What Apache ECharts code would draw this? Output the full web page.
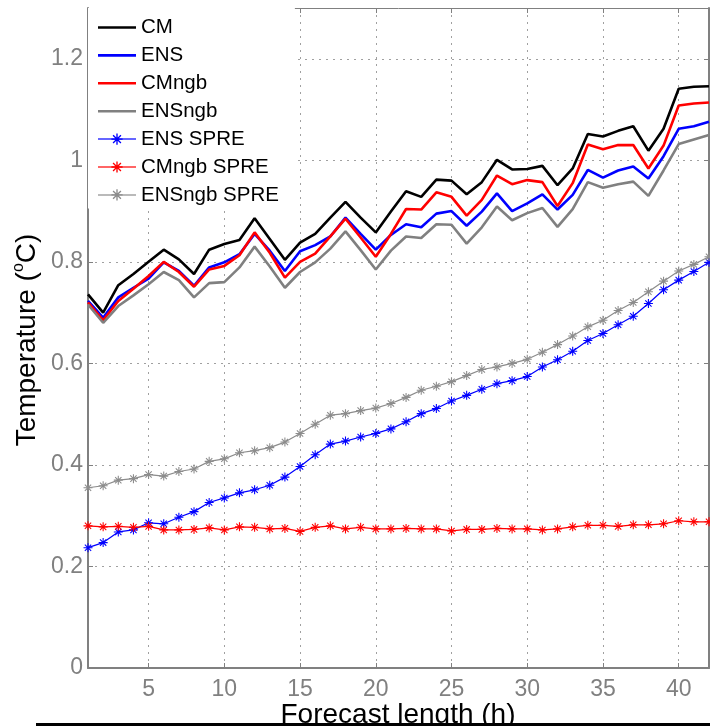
<!DOCTYPE html>
<html><head><meta charset="utf-8">
<script src="https://cdn.jsdelivr.net/npm/echarts@6/dist/echarts.min.js"></script>
<style>html,body{margin:0;padding:0;background:#fff;overflow:hidden}#c{width:710px;height:726px}</style>
</head><body><div id="c"></div>
<script>
const hours = [1,2,3,4,5,6,7,8,9,10,11,12,13,14,15,16,17,18,19,20,21,22,23,24,25,26,27,28,29,30,31,32,33,34,35,36,37,38,39,40,41,42];
const seriesNames = ['CM','ENS','CMngb','ENSngb','ENS SPRE','CMngb SPRE','ENSngb SPRE'];
const cm = [0.736,0.700,0.754,0.776,0.800,0.824,0.805,0.776,0.824,0.835,0.843,0.886,0.845,0.804,0.838,0.855,0.887,0.918,0.887,0.858,0.899,0.939,0.928,0.962,0.960,0.933,0.957,1.001,0.982,0.983,0.989,0.951,0.984,1.052,1.047,1.058,1.067,1.019,1.062,1.141,1.145,1.146];
const ens = [0.723,0.690,0.730,0.749,0.767,0.799,0.782,0.753,0.789,0.799,0.815,0.855,0.822,0.782,0.821,0.833,0.850,0.887,0.855,0.824,0.853,0.874,0.868,0.895,0.900,0.871,0.899,0.935,0.900,0.915,0.933,0.903,0.932,0.981,0.966,0.980,0.988,0.964,1.008,1.062,1.067,1.076];
const cmngb = [0.720,0.685,0.723,0.747,0.772,0.800,0.780,0.751,0.785,0.792,0.813,0.858,0.818,0.769,0.800,0.816,0.850,0.885,0.848,0.810,0.855,0.904,0.903,0.937,0.928,0.891,0.922,0.970,0.953,0.961,0.957,0.910,0.955,1.031,1.022,1.030,1.030,0.984,1.029,1.108,1.112,1.114];
const ensngb = [0.716,0.680,0.713,0.734,0.756,0.780,0.764,0.730,0.758,0.760,0.789,0.830,0.791,0.749,0.780,0.799,0.826,0.860,0.823,0.785,0.822,0.850,0.847,0.874,0.873,0.836,0.868,0.909,0.882,0.896,0.906,0.869,0.904,0.957,0.946,0.953,0.958,0.930,0.980,1.032,1.041,1.050];
const ensSpre = [0.237,0.247,0.268,0.272,0.286,0.284,0.297,0.308,0.326,0.335,0.345,0.351,0.360,0.376,0.397,0.420,0.441,0.447,0.455,0.462,0.471,0.485,0.501,0.511,0.526,0.537,0.549,0.560,0.566,0.574,0.593,0.607,0.624,0.645,0.659,0.676,0.693,0.718,0.745,0.764,0.781,0.799];
const cmngbSpre = [0.280,0.278,0.279,0.277,0.279,0.272,0.272,0.273,0.276,0.272,0.278,0.277,0.274,0.275,0.269,0.277,0.280,0.274,0.277,0.274,0.274,0.275,0.274,0.274,0.270,0.273,0.273,0.275,0.274,0.274,0.272,0.274,0.278,0.281,0.281,0.279,0.282,0.282,0.284,0.290,0.288,0.288];
const ensngbSpre = [0.355,0.359,0.370,0.373,0.381,0.378,0.387,0.392,0.407,0.412,0.424,0.428,0.434,0.445,0.462,0.480,0.498,0.501,0.507,0.512,0.521,0.533,0.547,0.555,0.564,0.576,0.588,0.593,0.600,0.608,0.622,0.637,0.654,0.672,0.685,0.704,0.720,0.741,0.762,0.782,0.795,0.810];
const xAxisTitle = 'Forecast length (h)';
const yAxisTitle = ['Temperature (', 'o', 'C)'];

const FF = 'Liberation Sans, Arial, Helvetica, sans-serif';
const GRAY = '#808080';
const STAR = 'path://M4.4 0L5.6 0L5.6 10L4.4 10Z M0 4.4L10 4.4L10 5.6L0 5.6Z M1.92 1.08L8.92 8.08L8.08 8.92L1.08 1.92Z M1.08 8.08L8.08 1.08L8.92 1.92L1.92 8.92Z';
const LINE_ICON = 'path://M0 0L38 0L38 2.6L0 2.6Z';

function pairs(arr) { return hours.map((h, i) => [h, arr[i]]); }
function mainLine(name, arr, color) {
  return { name, type: 'line', data: pairs(arr), symbol: 'none', smooth: false,
    lineStyle: { color, width: 2.6 }, itemStyle: { color } };
}
function spreLine(name, arr, color) {
  return { name, type: 'line', data: pairs(arr), symbol: STAR, symbolSize: 9, showSymbol: true, showAllSymbol: true,
    lineStyle: { color, width: 1.2 }, itemStyle: { color } };
}

const xCommon = { type: 'value', min: 1, max: 42, splitNumber: 8 };
const yCommon = { type: 'value', min: 0, max: 1.3, interval: 0.2 };
const dotted = { show: true, lineStyle: { color: '#a0a0a0', width: 1, type: [2, 5] } };

const chart = echarts.init(document.getElementById('c'), null, { renderer: 'canvas' });
chart.setOption({
  animation: false,
  backgroundColor: '#fff',
  grid: { left: 88, right: 1, top: 8, bottom: 58, containLabel: false, outerBoundsMode: 'none' },
  xAxis: [
    Object.assign({}, xCommon, {
      position: 'bottom',
      axisLine: { show: true, lineStyle: { color: GRAY, width: 2 } },
      axisTick: { show: true, inside: true, length: 5, lineStyle: { color: GRAY, width: 1 } },
      axisLabel: { color: GRAY, fontSize: 23, fontFamily: FF, margin: 10, showMinLabel: false, showMaxLabel: false },
      splitLine: dotted
    }),
    Object.assign({}, xCommon, {
      position: 'top',
      axisLine: { show: true, onZero: false, lineStyle: { color: GRAY, width: 1 } },
      axisTick: { show: true, inside: true, length: 5, lineStyle: { color: GRAY, width: 1 } },
      axisLabel: { show: false }, splitLine: { show: false }
    })
  ],
  yAxis: [
    Object.assign({}, yCommon, {
      position: 'left',
      axisLine: { show: true, lineStyle: { color: GRAY, width: 2 } },
      axisTick: { show: true, inside: true, length: 5, lineStyle: { color: GRAY, width: 1 } },
      axisLabel: { color: GRAY, fontSize: 23, fontFamily: FF, margin: 5, showMaxLabel: false },
      splitLine: dotted
    }),
    Object.assign({}, yCommon, {
      position: 'right',
      axisLine: { show: true, onZero: false, lineStyle: { color: GRAY, width: 2 } },
      axisTick: { show: true, inside: true, length: 5, lineStyle: { color: GRAY, width: 1 } },
      axisLabel: { show: false }, splitLine: { show: false }
    })
  ],
  legend: {
    left: 88, top: 8, orient: 'vertical', align: 'left',
    padding: [9, 16, 3, 9], itemWidth: 38, itemHeight: 14, itemGap: 6.9,
    backgroundColor: '#fff', borderWidth: 0,
    textStyle: { fontSize: 20.5, lineHeight: 20, color: '#000', fontFamily: FF },
    selectedMode: false,
    data: seriesNames.map((n, i) => i < 4 ? { name: n, icon: LINE_ICON } : { name: n, lineStyle: { opacity: 0.6 } })
  },
  series: [
    mainLine(seriesNames[0], cm, '#000000'),
    mainLine(seriesNames[1], ens, '#0000ff'),
    mainLine(seriesNames[2], cmngb, '#ff0000'),
    mainLine(seriesNames[3], ensngb, '#808080'),
    spreLine(seriesNames[4], ensSpre, '#0000ff'),
    spreLine(seriesNames[5], cmngbSpre, '#ff0000'),
    spreLine(seriesNames[6], ensngbSpre, '#8c8c8c')
  ],
  graphic: [
    { type: 'text', x: 27, y: 340, rotation: Math.PI / 2, z: 50,
      style: { text: '{a|' + yAxisTitle[0] + '}{s|' + yAxisTitle[1] + '}{a|' + yAxisTitle[2] + '}',
        align: 'center', verticalAlign: 'middle', fill: '#000',
        rich: { a: { fontSize: 28, fontFamily: FF, fill: '#000', lineHeight: 32 },
                s: { fontSize: 16, fontFamily: FF, fill: '#000', verticalAlign: 'top', lineHeight: 20 } } } },
    { type: 'text', x: 398, y: 715, z: 50,
      style: { text: xAxisTitle, font: '28px ' + FF, fill: '#000', align: 'center', verticalAlign: 'middle' } },
    { type: 'rect', z: 100, shape: { x: 36, y: 723, width: 674, height: 3 }, style: { fill: '#000' } }
  ]
});
</script></body></html>
